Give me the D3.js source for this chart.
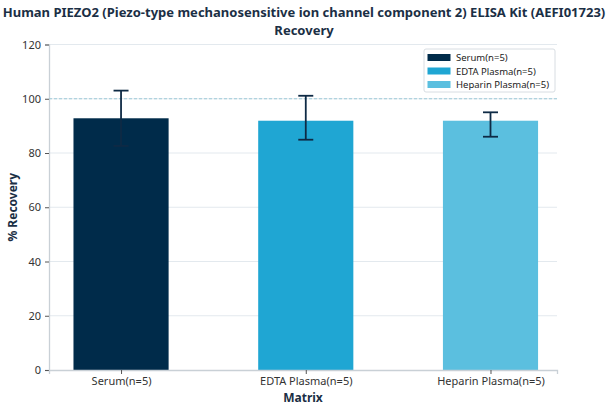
<!DOCTYPE html>
<html>
<head>
<meta charset="utf-8">
<script src="https://cdn.jsdelivr.net/npm/d3@7"></script>
<style>
  body { margin: 0; background: #fff; }
  text { font-family: "Noto Sans", "Open Sans", sans-serif; }
</style>
</head>
<body>
<div id="container"></div>
<script>
// chart data
const categories = ["Serum(n=5)", "EDTA Plasma(n=5)", "Heparin Plasma(n=5)"]
const recovery = [92.8, 91.9, 91.9]
const errHigh = [103.0, 101.1, 95.0]
const errLow = [82.6, 84.9, 86.0]
const yTicks = [0, 20, 40, 60, 80, 100, 120]
const colors = ["#002b4a", "#1fa6d3", "#5bbfdf"]

const w = 608
const h = 413
const margin = {top: 44.5, right: 51, bottom: 43, left: 49}

const svg = d3.select('#container')
    .append('svg')
    .attr('width', w)
    .attr('height', h)

// x positions: category index on a linear scale, bars ~0.5 wide
const x = d3.scaleLinear()
    .domain([-0.39, 2.36])
    .range([margin.left, w - margin.right])

const y = d3.scaleLinear()
    .domain([0, 120])
    .range([h - margin.bottom, margin.top])

const barW = x(0.515) - x(0)
const textCol = "#1b2f45"

// gridlines
svg.append('g')
    .selectAll('line')
    .data(yTicks.filter(d => d > 0))
    .enter()
    .append('line')
    .attr('x1', margin.left)
    .attr('x2', w - margin.right)
    .attr('y1', d => y(d))
    .attr('y2', d => y(d))
    .attr('stroke', '#e3e9ee')
    .attr('stroke-width', 1)

// y axis
const yAxis = svg.append('g')
    .attr('transform', 'translate(' + margin.left + ',0)')
    .call(d3.axisLeft(y).tickValues(yTicks).tickSize(4).tickPadding(4))
yAxis.select('.domain').attr('stroke', '#c9d0d6').attr('stroke-width', 1.3)
yAxis.selectAll('.tick line').attr('stroke', '#555')
yAxis.selectAll('.tick text')
    .attr('fill', '#333')
    .style('font-size', '11px')

// bars
svg.append('g')
    .selectAll('rect')
    .data(recovery)
    .enter()
    .append('rect')
    .attr('x', (d, i) => x(i) - barW / 2)
    .attr('y', d => y(d))
    .attr('width', barW)
    .attr('height', d => y(0) - y(d))
    .attr('fill', (d, i) => colors[i])

// reference line at 100
svg.append('line')
    .attr('x1', margin.left)
    .attr('x2', w - margin.right)
    .attr('y1', y(100))
    .attr('y2', y(100))
    .attr('stroke', '#9ccad8')
    .attr('stroke-width', 1)
    .attr('stroke-dasharray', '3,2')

// error bars
const errs = svg.append('g')
    .selectAll('g')
    .data(categories)
    .enter()
    .append('g')
    .attr('stroke', '#0e2a45')
    .attr('stroke-width', 1.8)
errs.append('line')
    .attr('x1', (d, i) => x(i))
    .attr('x2', (d, i) => x(i))
    .attr('y1', (d, i) => y(errLow[i]))
    .attr('y2', (d, i) => y(errHigh[i]))
errs.append('line')
    .attr('x1', (d, i) => x(i) - 7.5)
    .attr('x2', (d, i) => x(i) + 7.5)
    .attr('y1', (d, i) => y(errHigh[i]))
    .attr('y2', (d, i) => y(errHigh[i]))
errs.append('line')
    .attr('x1', (d, i) => x(i) - 7.5)
    .attr('x2', (d, i) => x(i) + 7.5)
    .attr('y1', (d, i) => y(errLow[i]))
    .attr('y2', (d, i) => y(errLow[i]))

// x axis
const xAxis = svg.append('g')
    .attr('transform', 'translate(0,' + y(0) + ')')
    .call(d3.axisBottom(x)
        .tickValues(d3.range(categories.length))
        .tickFormat(i => categories[i])
        .tickSize(4)
        .tickPadding(3))
xAxis.select('.domain').attr('stroke', '#c9d0d6').attr('stroke-width', 1.3)
xAxis.selectAll('.tick line').attr('stroke', '#555')
xAxis.selectAll('.tick text')
    .attr('fill', '#333')
    .style('font-size', '11px')

// titles
svg.append('text')
    .attr('x', w / 2)
    .attr('y', 17)
    .attr('text-anchor', 'middle')
    .attr('fill', textCol)
    .style('font-size', '13px')
    .style('font-weight', 'bold')
    .text('Human PIEZO2 (Piezo-type mechanosensitive ion channel component 2) ELISA Kit (AEFI01723)')
svg.append('text')
    .attr('x', w / 2)
    .attr('y', 35)
    .attr('text-anchor', 'middle')
    .attr('fill', textCol)
    .style('font-size', '13px')
    .style('font-weight', 'bold')
    .text('Recovery')

svg.append('text')
    .attr('x', (margin.left + w - margin.right) / 2)
    .attr('y', 402)
    .attr('text-anchor', 'middle')
    .attr('fill', textCol)
    .style('font-size', '12px')
    .style('font-weight', 'bold')
    .text('Matrix')

svg.append('text')
    .attr('transform', 'translate(17,' + y(60) + ') rotate(-90)')
    .attr('text-anchor', 'middle')
    .attr('fill', textCol)
    .style('font-size', '12px')
    .style('font-weight', 'bold')
    .text('% Recovery')

// legend
const legend = svg.append('g')
    .attr('transform', 'translate(424,49)')
legend.append('rect')
    .attr('width', 131)
    .attr('height', 43)
    .attr('rx', 2)
    .attr('fill', '#fff')
    .attr('fill-opacity', 0.9)
    .attr('stroke', '#d8dde2')
legend.selectAll('g.item')
    .data(categories)
    .enter()
    .append('g')
    .attr('class', 'item')
    .attr('transform', (d, i) => 'translate(0,' + (5 + i * 13.5) + ')')
    .each(function(d, i) {
        const g = d3.select(this)
        g.append('rect')
            .attr('x', 3.5)
            .attr('y', 0)
            .attr('width', 23)
            .attr('height', 7)
            .attr('fill', colors[i])
        g.append('text')
            .attr('x', 32)
            .attr('y', 7)
            .attr('fill', '#222')
            .style('font-size', '9.5px')
            .text(d)
    })
</script>
</body>
</html>
